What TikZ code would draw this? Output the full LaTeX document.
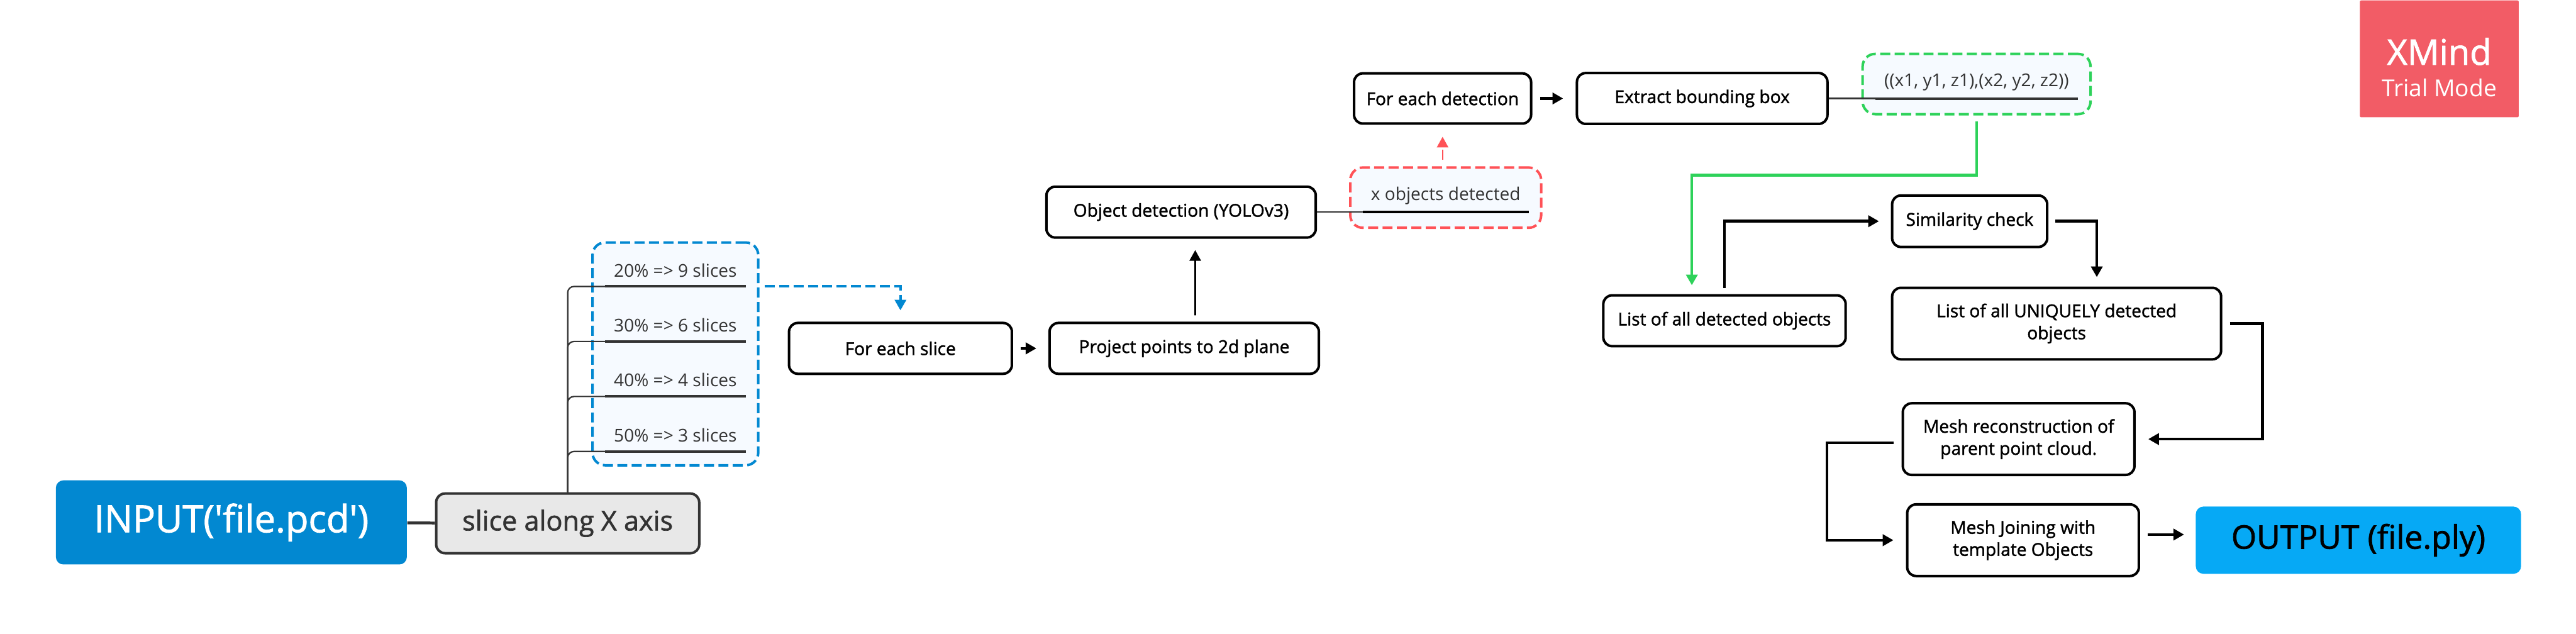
\documentclass[tikz,border=0pt]{standalone}
\usepackage{xcolor}
\usepackage{fontspec}
\usepackage{tikz}
\usetikzlibrary{arrows.meta,positioning,calc,fit,backgrounds}
\setmainfont{Open Sans}
\newfontfamily\boxfont[FakeBold=1.5]{Open Sans}
\definecolor{inputblue}{HTML}{0288D1}
\definecolor{outputblue}{HTML}{06A9F5}
\definecolor{sliceline}{HTML}{333333}
\definecolor{slicefill}{HTML}{E8E8E8}
\definecolor{framefill}{HTML}{F6FAFF}
\definecolor{framered}{HTML}{FF5257}
\definecolor{framegreen}{HTML}{2ED25A}
\definecolor{trialred}{HTML}{F25C66}

\begin{document}
\begin{tikzpicture}[
  stepbox/.style={draw=black, fill=white, line width=0.04cm, rounded corners=0.14cm, align=center, inner sep=0pt, font=\boxfont\fontsize{8pt}{10pt}\selectfont},
  endbox/.style={rounded corners=0.12cm, inner sep=0pt, align=center},
  sublabel/.style={inner sep=0pt, outer sep=0pt, minimum height=0.52cm, text=sliceline, font=\fontsize{8pt}{10pt}\selectfont},
  groupframe/.style={dashed, dash pattern=on 0.16cm off 0.07cm, line width=0.04cm, rounded corners=0.2cm, fill=framefill, inner xsep=0.2cm, inner ysep=0.22cm, yshift=-0.03cm},
  arr/.style={-{Triangle[length=0.17cm,width=0.18cm]}, line width=0.045cm, black},
  twig/.style={line width=0.022cm, sliceline, rounded corners=0.1cm},
  rule/.style={line width=0.04cm}
]
  \useasboundingbox (0,0) rectangle (41.03,-10.09);

  \node[endbox, fill=inputblue, text=white, minimum width=5.59cm, minimum height=1.34cm, font=\boxfont\fontsize{17pt}{20pt}\selectfont] (input) at (3.685,-8.32) {INPUT('file.pcd')};
  \node[stepbox, draw=sliceline, fill=slicefill, text=sliceline, right=0.44cm of input, yshift=-0.015cm, minimum width=4.19cm, minimum height=0.95cm, font=\boxfont\fontsize{12.3pt}{14pt}\selectfont] (slice) {slice along X axis};

  \node[sublabel, minimum width=2.24cm, above=0.65cm of slice, xshift=1.715cm] (s50) {50\% => 3 slices};
  \node[sublabel, minimum width=2.24cm, above=0.356cm of s50] (s40) {40\% => 4 slices};
  \node[sublabel, minimum width=2.24cm, above=0.356cm of s40] (s30) {30\% => 6 slices};
  \node[sublabel, minimum width=2.24cm, above=0.356cm of s30] (s20) {20\% => 9 slices};

  \node[stepbox, right=0.67cm of s30, yshift=-0.37cm, minimum width=3.55cm, minimum height=0.81cm] (forslice) {For each slice};
  \node[stepbox, right=0.56cm of forslice, minimum width=4.29cm, minimum height=0.81cm] (project) {Project points to 2d plane};
  \node[stepbox, above=1.32cm of project, xshift=-0.05cm, minimum width=4.29cm, minimum height=0.81cm] (objdet) {Object detection (YOLOv3)};
  \node[sublabel, minimum width=2.64cm, right=0.73cm of objdet.east, anchor=south west] (xobj) {x objects detected};
  \node[stepbox, above=0.87cm of xobj, xshift=-0.05cm, minimum width=2.82cm, minimum height=0.8cm] (fordet) {For each detection};
  \node[stepbox, right=0.69cm of fordet, minimum width=3.99cm, minimum height=0.81cm] (extract) {Extract bounding box};
  \node[sublabel, minimum width=3.23cm, right=0.74cm of extract.east, anchor=south west] (bbox) {((x1, y1, z1),(x2, y2, z2))};

  \node[stepbox, below=2.69cm of extract, xshift=0.355cm, minimum width=3.86cm, minimum height=0.81cm] (listall) {List of all detected objects};
  \node[stepbox, right=0.7cm of listall, yshift=1.585cm, minimum width=2.47cm, minimum height=0.82cm] (simil) {Similarity check};
  \node[stepbox, below=0.61cm of simil.south west, anchor=north west, minimum width=5.24cm, minimum height=1.14cm] (unique) {List of all UNIQUELY detected\\objects};
  \node[stepbox, below=0.66cm of unique, xshift=-0.605cm, minimum width=3.69cm, minimum height=1.14cm] (meshrec) {Mesh reconstruction of\\parent point cloud.};
  \node[stepbox, below=0.43cm of meshrec, xshift=0.07cm, minimum width=3.69cm, minimum height=1.14cm] (meshjoin) {Mesh Joining with\\template Objects};
  \node[endbox, fill=outputblue, right=0.88cm of meshjoin, minimum width=5.18cm, minimum height=1.07cm, font=\boxfont\fontsize{14.7pt}{17pt}\selectfont] (output) {OUTPUT (file.ply)};

  \node[anchor=north west, fill=trialred, text=white, minimum width=2.53cm, minimum height=1.86cm, inner sep=0pt, align=center, rounded corners=0.02cm] (trial) at (37.58,0) {{\boxfont\fontsize{16pt}{19pt}\selectfont\rule{0pt}{20pt}XMind}\\[2.5pt]{\fontsize{10.6pt}{13pt}\selectfont Trial Mode}};

  \begin{scope}[on background layer]
    \node[groupframe, draw=inputblue, inner ysep=0.2cm, yshift=0.01cm, fit=(s20)(s50)] (sliceframe) {};
    \node[groupframe, draw=framered, fit=(xobj)] (xobjframe) {};
    \node[groupframe, draw=framegreen, fit=(bbox)] (bboxframe) {};
  \end{scope}

  \draw[sliceline, line width=0.045cm] (input) -- (slice);
  \foreach \s in {s20,s30,s40,s50} {
    \draw[twig] (slice.north) |- (\s.south west);
    \draw[rule, sliceline] (\s.south west) -- (\s.south east);
  }
  \draw[twig] (objdet.east) -- (xobj.south west);
  \draw[rule, black] (xobj.south west) -- (xobj.south east);
  \draw[twig] (extract.east) -- (bbox.south west);
  \draw[rule, sliceline] (bbox.south west) -- (bbox.south east);

  \draw[arr, inputblue, line width=0.04cm, dash pattern=on 0.16cm off 0.07cm, shorten <=0.08cm, shorten >=0.18cm] (sliceframe.east |- s20.south) -| (forslice.north);
  \draw[arr, shorten <=0.12cm, shorten >=0.19cm] (forslice) -- (project);
  \draw[arr, line width=0.028cm, shorten <=0.1cm, shorten >=0.18cm] ([xshift=0.175cm]project.north) -- ([xshift=0.225cm]objdet.south);
  \draw[arr, framered, line width=0.025cm, dash pattern=on 0.16cm off 0.07cm, shorten <=0.1cm, shorten >=0.19cm] ([xshift=-0.05cm]xobjframe.north) -- (fordet.south);
  \draw[arr, shorten <=0.12cm, shorten >=0.2cm] (fordet) -- (extract);
  \draw[arr, framegreen, shorten <=0.1cm, shorten >=0.14cm] (bboxframe.south) -- ++(0,-0.95) -| ([xshift=-0.52cm]listall.north);
  \draw[arr, shorten <=0.1cm, shorten >=0.19cm] (listall.north) |- (simil.west);
  \draw[arr, shorten <=0.11cm, shorten >=0.15cm] (simil.east) -| ([xshift=0.64cm]unique.north);
  \draw[arr, shorten <=0.12cm, shorten >=0.2cm] (unique.east) -- ++(0.64,0) |- (meshrec.east);
  \draw[arr, shorten <=0.13cm, shorten >=0.2cm] ([yshift=-0.06cm]meshrec.west) -- ++(-1.19,0) |- (meshjoin.west);
  \draw[arr, shorten <=0.12cm, shorten >=0.18cm] ([yshift=0.09cm]meshjoin.east) -- ([yshift=0.09cm]output.west);
\end{tikzpicture}
\end{document}
